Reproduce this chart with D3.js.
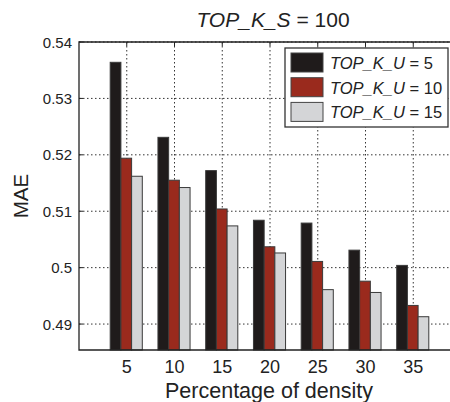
<!DOCTYPE html>
<html>
<head>
<meta charset="utf-8">
<script src="https://cdn.jsdelivr.net/npm/d3@7"></script>
<style>
	body { margin: 0; background: #fff; }
	svg { display: block; font-family: "Liberation Sans", Arial, sans-serif; }
</style>
</head>
<body>
<svg id="chart" width="450" height="402"></svg>
<script>
// densities on the x axis
var densities = [5, 10, 15, 20, 25, 30, 35];
var seriesLabels = ["5", "10", "15"];
var seriesColors = ["#1f1b1b", "#9a2a1d", "#d4d5d7"];

// MAE values
var maeU5 = [0.5364, 0.5231, 0.5172, 0.5084, 0.5079, 0.5031, 0.5004];
var maeU10 = [0.5194, 0.5155, 0.5104, 0.5037, 0.5011, 0.4976, 0.4933];
var maeU15 = [0.5162, 0.5142, 0.5074, 0.5026, 0.4961, 0.4956, 0.4913];
var yTicks = [0.49, 0.5, 0.51, 0.52, 0.53, 0.54];
var yTickLabels = ["0.49", "0.5", "0.51", "0.52", "0.53", "0.54"];

var series = [maeU5, maeU10, maeU15];

var svg = d3.select("#chart");
var plotLeft = 79, plotTop = 42, plotRight = 461, plotBottom = 350;

var x = d3.scaleLinear().domain([0, 40]).range([plotLeft, plotRight]);
var y = d3.scaleLinear().domain([0.4854, 0.54]).range([plotBottom, plotTop]);

// grid lines
var grid = svg.append("g");
grid.selectAll(".vg").data(densities).enter().append("line")
	.attr("x1", function(d){ return x(d); })
	.attr("x2", function(d){ return x(d); })
	.attr("y1", plotTop).attr("y2", plotBottom)
	.attr("stroke", "#333").attr("stroke-width", 1)
	.attr("stroke-dasharray", "1.5,2.5");
grid.selectAll(".hg").data(yTicks).enter().append("line")
	.attr("x1", plotLeft).attr("x2", plotRight)
	.attr("y1", function(d){ return y(d); })
	.attr("y2", function(d){ return y(d); })
	.attr("stroke", "#333").attr("stroke-width", 1)
	.attr("stroke-dasharray", "1.5,2.5");

// bars
var barW = 10.7;
series.forEach(function(vals, i){
	svg.append("g").selectAll("rect").data(vals).enter().append("rect")
		.attr("x", function(d, j){ return x(densities[j]) - 1.5 * barW + i * barW - 0.5; })
		.attr("width", barW)
		.attr("y", function(d){ return y(d); })
		.attr("height", function(d){ return plotBottom - y(d); })
		.attr("fill", seriesColors[i])
		.attr("stroke", "#3a3a3a")
		.attr("stroke-width", 1);
});

// box
svg.append("path")
	.attr("d", "M" + plotRight + "," + plotTop + "H" + plotLeft + "V" + plotBottom + "H" + plotRight)
	.attr("fill", "none").attr("stroke", "#222").attr("stroke-width", 1.3);

// ticks (inward)
svg.append("g").selectAll("line").data(densities).enter().append("line")
	.attr("x1", function(d){ return x(d); }).attr("x2", function(d){ return x(d); })
	.attr("y1", plotTop).attr("y2", plotTop + 4)
	.attr("stroke", "#222");
svg.append("g").selectAll("line").data(yTicks).enter().append("line")
	.attr("x1", plotLeft).attr("x2", plotLeft + 4)
	.attr("y1", function(d){ return y(d); }).attr("y2", function(d){ return y(d); })
	.attr("stroke", "#222");

// tick labels
svg.append("g").selectAll("text").data(yTicks).enter().append("text")
	.attr("x", 72)
	.attr("y", function(d){ return y(d) + 5.5; })
	.attr("text-anchor", "end")
	.attr("font-size", 15)
	.attr("fill", "#222")
	.text(function(d, i){ return yTickLabels[i]; });
svg.append("g").selectAll("text").data(densities).enter().append("text")
	.attr("x", function(d){ return x(d); })
	.attr("y", 373)
	.attr("text-anchor", "middle")
	.attr("font-size", 18)
	.attr("fill", "#222")
	.text(function(d){ return d; });

// axis titles
svg.append("text")
	.attr("x", 269).attr("y", 398)
	.attr("text-anchor", "middle")
	.attr("font-size", 21.5).attr("fill", "#222")
	.text("Percentage of density");
svg.append("text")
	.attr("transform", "translate(27.5,196) rotate(-90)")
	.attr("text-anchor", "middle")
	.attr("font-size", 20.5).attr("fill", "#222")
	.text("MAE");

// title
var title = svg.append("text")
	.attr("x", 273).attr("y", 27)
	.attr("text-anchor", "middle")
	.attr("font-size", 21).attr("fill", "#222");
title.append("tspan").attr("font-style", "italic").text("TOP_K_S");
title.append("tspan").text(" = 100");

// legend
var legend = svg.append("g");
legend.append("rect")
	.attr("x", 285).attr("y", 48).attr("width", 163).attr("height", 79)
	.attr("fill", "#fff").attr("stroke", "#333").attr("stroke-width", 1.3);
seriesLabels.forEach(function(lab, i){
	var ly = 53 + i * 24.7;
	legend.append("rect")
		.attr("x", 291).attr("y", ly).attr("width", 32).attr("height", 19)
		.attr("fill", seriesColors[i]).attr("stroke", "#444").attr("stroke-width", 1);
	var t = legend.append("text")
		.attr("x", 330).attr("y", ly + 16)
		.attr("font-size", 16.5).attr("fill", "#222");
	t.append("tspan").attr("font-style", "italic").text("TOP_K_U");
	t.append("tspan").text(" = " + lab);
});
</script>
</body>
</html>
